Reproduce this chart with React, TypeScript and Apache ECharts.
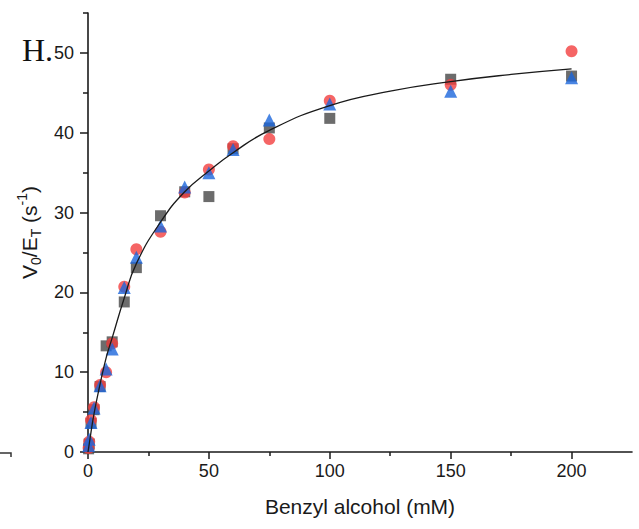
import React, { useEffect, useRef } from "react";
import * as echarts from "echarts";

const concentrations = [0.25, 0.5, 1.25, 2.5, 5, 7.5, 10, 15, 20, 30, 40, 50, 60, 75, 100, 150, 200];
const rep1Gray = [0.4, 1.0, 3.6, 5.3, 8.2, 13.3, 13.8, 18.8, 23.1, 29.6, 32.6, 32.0, 38.0, 40.6, 41.8, 46.7, 47.1];
const rep2Red = [0.5, 1.3, 4.0, 5.6, 8.4, 10.0, 13.6, 20.7, 25.4, 27.6, 32.5, 35.4, 38.3, 39.2, 44.0, 46.0, 50.2];
const rep3Blue = [0.8, 1.6, 3.7, 5.5, 8.3, 10.4, 12.9, 20.6, 24.4, 28.3, 33.2, 35.0, 37.9, 41.6, 43.6, 45.2, 46.9];

const fitX = [0, 1, 2.5, 5, 7.5, 10, 15, 20, 30, 40, 50, 60, 75, 100, 125, 150, 175, 200];
const fitY = [0, 2.0, 4.8, 8.5, 11.8, 14.3, 19.3, 23.6, 28.8, 32.6, 35.2, 37.5, 40.3, 43.4, 45.2, 46.4, 47.3, 48.0];

const xMajor = [0, 50, 100, 150, 200];
const xMinor = [25, 75, 125, 175];
const yMajor = [0, 10, 20, 30, 40, 50];
const yMinor = [5, 15, 25, 35, 45, 55];

const pairs = (xs: number[], ys: number[]) => xs.map((x, i) => [x, ys[i]]);

export default function App() {
  const ref = useRef<HTMLDivElement>(null);
  useEffect(() => {
    if (!ref.current) return;
    const chart = echarts.init(ref.current, null, { renderer: "svg" });
    const axisColor = "#1a1a1a";
    const font = "Liberation Sans, Arial, sans-serif";
    chart.setOption({
      animation: false,
      backgroundColor: "#ffffff",
      grid: { left: 88, right: 7, top: 13, bottom: 77, containLabel: false },
      xAxis: [
        {
          type: "value",
          min: 0,
          max: 225,
          position: "bottom",
          name: "Benzyl alcohol (mM)",
          nameLocation: "middle",
          nameGap: 44,
          nameTextStyle: { fontFamily: font, fontSize: 21, color: "#1a1a1a" },
          axisLine: { show: true, onZero: false, lineStyle: { color: axisColor, width: 1.6 } },
          axisTick: { show: true, inside: false, length: 7, customValues: xMajor, lineStyle: { color: axisColor, width: 1.5 } },
          axisLabel: { show: true, customValues: xMajor, margin: 10, fontFamily: font, fontSize: 18, color: "#1a1a1a" },
          splitLine: { show: false },
        },
        {
          type: "value",
          min: 0,
          max: 225,
          position: "bottom",
          axisLine: { show: false },
          axisTick: { show: true, inside: false, length: 4, customValues: xMinor, lineStyle: { color: axisColor, width: 1.5 } },
          axisLabel: { show: false },
          splitLine: { show: false },
        },
      ],
      yAxis: [
        {
          type: "value",
          min: 0,
          max: 55,
          position: "left",
          name: "{a|V}{b|0}{a|/E}{b|T}{a| (s}{c|-1}{a|)}",
          nameLocation: "middle",
          nameRotate: 90,
          nameGap: 44,
          nameTextStyle: {
            fontFamily: font,
            color: "#1a1a1a",
            rich: {
              a: { fontFamily: font, fontSize: 21, lineHeight: 28, color: "#1a1a1a" },
              b: { fontFamily: font, fontSize: 14, lineHeight: 14, verticalAlign: "bottom", color: "#1a1a1a" },
              c: { fontFamily: font, fontSize: 14, lineHeight: 14, verticalAlign: "top", color: "#1a1a1a" },
            },
          },
          axisLine: { show: true, onZero: false, lineStyle: { color: axisColor, width: 1.6 } },
          axisTick: { show: true, inside: false, length: 8, customValues: yMajor, lineStyle: { color: axisColor, width: 1.5 } },
          axisLabel: { show: true, customValues: yMajor, margin: 14, fontFamily: font, fontSize: 18, color: "#1a1a1a" },
          splitLine: { show: false },
        },
        {
          type: "value",
          min: 0,
          max: 55,
          position: "left",
          axisLine: { show: false },
          axisTick: { show: true, inside: false, length: 5, customValues: yMinor, lineStyle: { color: axisColor, width: 1.5 } },
          axisLabel: { show: false },
          splitLine: { show: false },
        },
      ],
      series: [
        {
          type: "scatter",
          name: "rep1",
          data: pairs(concentrations, rep1Gray),
          symbol: "rect",
          symbolSize: 11,
          itemStyle: { color: "#474747" },
          z: 2,
        },
        {
          type: "scatter",
          name: "rep2",
          data: pairs(concentrations, rep2Red),
          symbol: "circle",
          symbolSize: 12,
          itemStyle: { color: "#f23f3f" },
          z: 3,
        },
        {
          type: "scatter",
          name: "rep3",
          data: pairs(concentrations, rep3Blue),
          symbol: "triangle",
          symbolSize: 13,
          itemStyle: { color: "#1b67dc" },
          z: 4,
        },
        {
          type: "line",
          name: "fit",
          data: pairs(fitX, fitY),
          smooth: true,
          showSymbol: false,
          symbol: "none",
          lineStyle: { color: "#1a1a1a", width: 1.3 },
          z: 5,
        },
      ],
      graphic: [
        {
          type: "text",
          left: 22,
          top: 34,
          style: { text: "H.", fontFamily: "Liberation Serif, Times New Roman, serif", fontSize: 32, fill: "#111" },
        },
        {
          type: "polyline",
          shape: { points: [[0, 453], [11, 453], [11, 457]] },
          style: { stroke: "#333", lineWidth: 1.5, fill: "none" },
        },
      ],
    });
    return () => chart.dispose();
  }, []);
  return <div ref={ref} style={{ width: 639, height: 529, position: "absolute", left: 0, top: 0 }} />;
}
